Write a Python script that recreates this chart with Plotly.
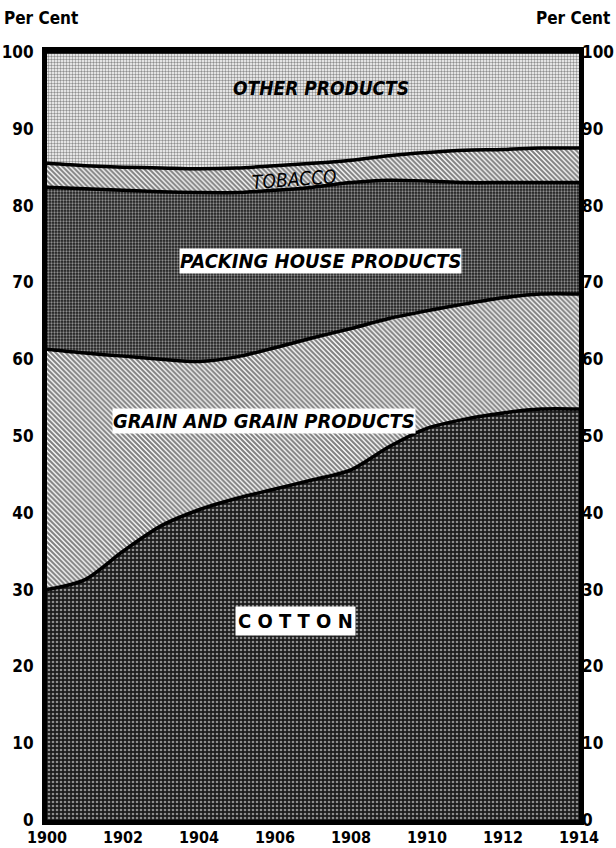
import plotly.graph_objects as go

years = list(range(1900, 1915))
cotton = [30.0, 31.3, 35.0, 38.3, 40.4, 41.9, 43.1, 44.3, 45.6, 48.6, 51.0, 52.2, 53.0, 53.5, 53.5]
grain = [31.3, 29.5, 25.4, 21.7, 19.3, 18.4, 18.4, 18.5, 18.4, 16.7, 15.3, 15.0, 15.0, 15.0, 15.0]
packing = [21.1, 21.4, 21.6, 21.8, 22.0, 21.4, 20.5, 19.6, 19.0, 18.0, 16.9, 15.8, 15.0, 14.5, 14.5]
tobacco = [3.1, 3.0, 3.0, 3.1, 3.1, 3.2, 3.2, 3.1, 2.9, 3.2, 3.7, 4.2, 4.3, 4.5, 4.5]
other = [14.5, 14.8, 15.0, 15.1, 15.2, 15.1, 14.8, 14.5, 14.1, 13.5, 13.1, 12.8, 12.7, 12.5, 12.5]

x_ticks = [1900, 1902, 1904, 1906, 1908, 1910, 1912, 1914]
y_ticks = [0, 10, 20, 30, 40, 50, 60, 70, 80, 90, 100]

FONT = "DejaVu Sans Condensed"

series = [
    ("Cotton", cotton, dict(shape=".", bgcolor="#1c1c1c", fgcolor="#ffffff", size=4, solidity=0.35)),
    ("Grain and grain products", grain, dict(shape="\\", bgcolor="#ffffff", fgcolor="#000000", size=3.5, solidity=0.6)),
    ("Packing house products", packing, dict(shape=".", bgcolor="#1c1c1c", fgcolor="#ffffff", size=3, solidity=0.45)),
    ("Tobacco", tobacco, dict(shape="\\", bgcolor="#ffffff", fgcolor="#000000", size=3.5, solidity=0.6)),
    ("Other products", other, dict(shape=".", bgcolor="#ffffff", fgcolor="#222222", size=3, solidity=0.5)),
]

fig = go.Figure()
for name, vals, pat in series:
    fig.add_trace(go.Scatter(
        x=years, y=vals, name=name, stackgroup="one", mode="lines",
        line=dict(color="black", width=3.5, shape="spline", smoothing=0.8),
        fillpattern=pat, fillcolor=pat["bgcolor"], hoverinfo="skip",
    ))

# invisible trace to carry the right-hand axis
fig.add_trace(go.Scatter(x=[years[0], years[-1]], y=[0, 100], yaxis="y2",
                         mode="markers", marker=dict(opacity=0), showlegend=False, hoverinfo="skip"))

tick_font = dict(size=17, family=FONT, weight="bold")

fig.update_layout(
    width=616, height=848,
    margin=dict(l=47, r=37, t=52, b=28),
    paper_bgcolor="white", plot_bgcolor="white",
    showlegend=False,
    font=dict(family=FONT, color="black"),
    xaxis=dict(range=[1900, 1914], tickvals=x_ticks, ticktext=[str(v) for v in x_ticks],
               showgrid=False, zeroline=False, showline=True, linecolor="black", linewidth=5,
               mirror=True, ticks="", automargin=False, ticklabelstandoff=-1,
               tickfont=dict(size=16, family=FONT, weight="bold")),
    yaxis=dict(range=[0, 100], tickvals=y_ticks, showgrid=False, zeroline=False,
               showline=True, linecolor="black", linewidth=5, mirror=True, ticks="",
               automargin=False, ticklabelstandoff=5, tickfont=tick_font),
    yaxis2=dict(range=[0, 100], tickvals=y_ticks, overlaying="y", side="right",
                showgrid=False, zeroline=False, showline=False, ticks="",
                automargin=False, ticklabelstandoff=2, tickfont=tick_font),
)

label_font = dict(family=FONT, color="black")
annos = [
    dict(x=1907.2, y=95.3, text="<b><i>OTHER PRODUCTS</i></b>", font=dict(size=19, **label_font)),
    dict(x=1906.5, y=83.5, text="<i>TOBACCO</i>", font=dict(size=19, **label_font), textangle=-4),
    dict(x=1907.2, y=72.8, text="<b><i>PACKING HOUSE PRODUCTS</i></b>", font=dict(size=20, **label_font),
         bgcolor="white", borderpad=0),
    dict(x=1905.7, y=51.9, text="<b><i>GRAIN AND GRAIN PRODUCTS</i></b>", font=dict(size=20, **label_font),
         bgcolor="white", borderpad=0),
    dict(x=1906.55, y=25.9, text="<b>C O T T O N</b>", font=dict(size=20, **label_font),
         bgcolor="white", borderpad=2),
]
for a in annos:
    fig.add_annotation(xref="x", yref="y", showarrow=False, **a)

fig.add_annotation(xref="paper", yref="paper", x=-0.085, y=1.0, yshift=22, xanchor="left", yanchor="bottom",
                   text="<b>Per Cent</b>", showarrow=False, font=dict(size=17, family=FONT))
fig.add_annotation(xref="paper", yref="paper", x=1.062, y=1.0, yshift=22, xanchor="right", yanchor="bottom",
                   text="<b>Per Cent</b>", showarrow=False, font=dict(size=17, family=FONT))

fig.write_html("out.html", config={"displayModeBar": False},
               post_script="document.body.style.margin='0';document.body.style.overflow='hidden';")
